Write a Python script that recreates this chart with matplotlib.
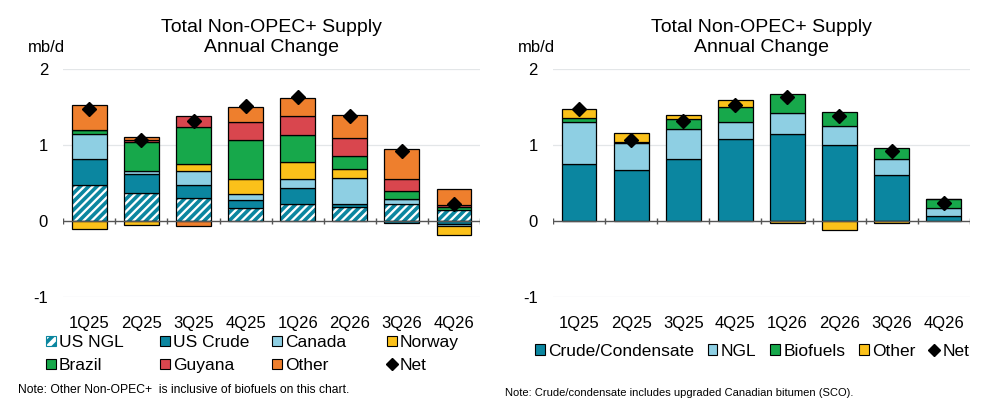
import matplotlib.pyplot as plt
from matplotlib.patches import Patch
from matplotlib.lines import Line2D
import numpy as np

plt.rcParams["font.family"] = ["Liberation Sans", "DejaVu Sans"]
plt.rcParams["hatch.linewidth"] = 2.6
plt.rcParams["axes.unicode_minus"] = False

quarters = ["1Q25", "2Q25", "3Q25", "4Q25", "1Q26", "2Q26", "3Q26", "4Q26"]

# left chart: by country (mb/d)
us_ngl = [0.48, 0.37, 0.30, 0.17, 0.23, 0.18, 0.22, 0.14]
us_crude = [0.34, 0.25, 0.18, 0.11, 0.21, 0.04, -0.03, -0.04]
canada = [0.32, 0.04, 0.18, 0.07, 0.11, 0.34, 0.07, -0.03]
norway = [-0.10, -0.05, 0.09, 0.20, 0.22, 0.13, 0.0, -0.12]
brazil = [0.06, 0.38, 0.49, 0.52, 0.36, 0.17, 0.10, 0.05]
guyana = [0.0, 0.02, 0.14, 0.23, 0.25, 0.23, 0.16, 0.02]
other_l = [0.33, 0.04, -0.07, 0.20, 0.24, 0.30, 0.40, 0.21]
net_l = [1.47, 1.07, 1.31, 1.51, 1.63, 1.38, 0.92, 0.23]

# right chart: by product (mb/d)
crude_cond = [0.745, 0.67, 0.81, 1.08, 1.15, 1.00, 0.61, 0.07]
ngl = [0.555, 0.36, 0.40, 0.22, 0.27, 0.25, 0.21, 0.10]
biofuels = [0.06, 0.01, 0.13, 0.20, 0.25, 0.19, 0.14, 0.12]
other_r = [0.12, 0.12, 0.06, 0.09, -0.02, -0.12, -0.02, 0.0]
net_r = [1.48, 1.07, 1.31, 1.52, 1.63, 1.38, 0.92, 0.24]

TEAL = "#0B86A0"
LBLUE = "#8ECFE3"
YELLOW = "#FBC11A"
GREEN = "#17A84B"
RED = "#D9464E"
ORANGE = "#EE7F2D"

W, H = 991, 407
BAR_W = 0.67
HATCH = "////"


def stack(ax, series, x):
    pos = np.zeros(len(x))
    neg = np.zeros(len(x))
    for vals, color, hatch in series:
        vals = np.array(vals)
        bottom = np.where(vals >= 0, pos, neg)
        if hatch:
            ax.bar(x, vals, BAR_W, bottom=bottom, color="white",
                   edgecolor=TEAL, hatch=hatch, linewidth=0, zorder=2)
            ax.bar(x, vals, BAR_W, bottom=bottom, fill=False,
                   edgecolor="black", linewidth=0.9, zorder=3)
        else:
            ax.bar(x, vals, BAR_W, bottom=bottom, color=color,
                   edgecolor="black", linewidth=0.9, zorder=3)
        pos = pos + np.where(vals >= 0, vals, 0)
        neg = neg + np.where(vals < 0, vals, 0)


def style(ax, net):
    x = np.arange(len(quarters))
    ax.plot(x, net, linestyle="none", marker="D", markersize=7.5,
            color="black", zorder=5)
    ax.set_xlim(-0.5, len(quarters) - 0.5)
    ax.set_ylim(-1, 2)
    ax.set_yticks([-1, 0, 1, 2])
    ax.set_xticks(x)
    ax.set_xticklabels(quarters, fontsize=12)
    ax.tick_params(axis="both", length=0, labelsize=12)
    ax.tick_params(axis="y", pad=11)
    ax.tick_params(axis="x", pad=14)
    for s in ax.spines.values():
        s.set_visible(False)
    for g in [-1, 1, 2]:
        ax.axhline(g, color="#E3E6E8", linewidth=0.9, zorder=0)
    ax.axhline(0, color="#555555", linewidth=1.0, zorder=4)
    ax.vlines(np.arange(len(quarters) + 1) - 0.5, -0.04, 0.04,
              color="#555555", linewidth=1.0, zorder=4)
    ax.set_title("Total Non-OPEC+ Supply\nAnnual Change", fontsize=14,
                 pad=12, linespacing=1.22)
    ax.text(-0.5 + 0.04, 2.19, "mb/d", fontsize=12, ha="right", va="bottom")


fig = plt.figure(figsize=(W / 100, H / 100), dpi=100)
ax1 = fig.add_axes([63.3 / W, 110 / H, 416.7 / W, 228 / H])
ax2 = fig.add_axes([553 / W, 110 / H, 416.7 / W, 228 / H])

x = np.arange(len(quarters))
stack(ax1, [
    (us_ngl, TEAL, HATCH),
    (us_crude, TEAL, None),
    (canada, LBLUE, None),
    (norway, YELLOW, None),
    (brazil, GREEN, None),
    (guyana, RED, None),
    (other_l, ORANGE, None),
], x)
style(ax1, net_l)

stack(ax2, [
    (crude_cond, TEAL, None),
    (ngl, LBLUE, None),
    (biofuels, GREEN, None),
    (other_r, YELLOW, None),
], x)
style(ax2, net_r)


def sq(color, hatch=None):
    if hatch:
        return Patch(facecolor="white", edgecolor=TEAL, hatch="///",
                     linewidth=0.8)
    return Patch(facecolor=color, edgecolor="black", linewidth=0.8)


def net_handle():
    return Line2D([], [], linestyle="none", marker="D", markersize=6.5,
                  color="black")


leg_kw = dict(frameon=False, fontsize=12.5, handlelength=0.55,
              handleheight=0.55, handletextpad=0.2, borderpad=0,
              borderaxespad=0)

# left legend: four fixed columns, two rows each
left_cols = [
    ([sq(None, HATCH), sq(GREEN)], ["US NGL", "Brazil"], 46),
    ([sq(TEAL), sq(RED)], ["US Crude", "Guyana"], 160),
    ([sq(LBLUE), sq(ORANGE)], ["Canada", "Other"], 272),
    ([sq(YELLOW), net_handle()], ["Norway", "Net"], 387),
]
for handles, labels, xpx in left_cols:
    fig.legend(handles, labels, ncol=1, loc="center left",
               bbox_to_anchor=(xpx / W, 1 - 354 / H), labelspacing=0.45,
               **leg_kw)

right_h = [sq(TEAL), sq(LBLUE), sq(GREEN), sq(YELLOW), net_handle()]
right_l = ["Crude/Condensate", "NGL", "Biofuels", "Other", "Net"]
fig.legend(right_h, right_l, ncol=5, loc="center left",
           bbox_to_anchor=(535 / W, 1 - 351 / H), columnspacing=0.8,
           **leg_kw)

fig.text(18 / W, 1 - 390 / H,
         "Note: Other Non-OPEC+  is inclusive of biofuels on this chart.",
         fontsize=8.7, va="center", ha="left")
fig.text(505 / W, 1 - 393 / H,
         "Note: Crude/condensate includes upgraded Canadian bitumen (SCO).",
         fontsize=8, va="center", ha="left")

fig.savefig("out.png", dpi=100)
